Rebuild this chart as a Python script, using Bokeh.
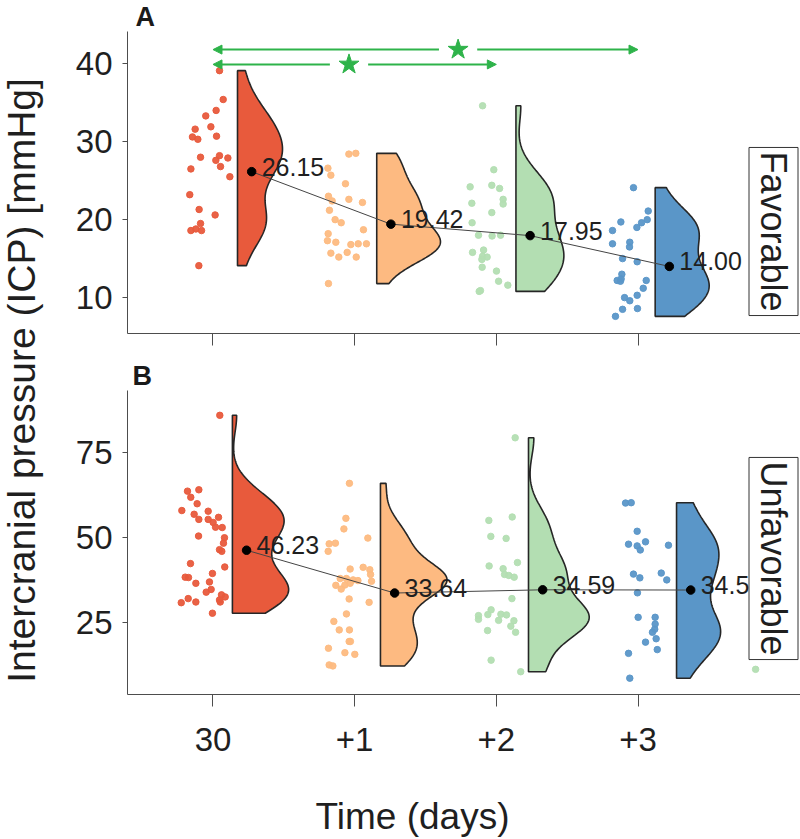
import numpy as np
from bokeh.plotting import figure
from bokeh.models import Range1d, FixedTicker, Label, Arrow, NormalHead
from bokeh.layouts import row, column
from bokeh.embed import file_html
from bokeh.resources import INLINE
from bokeh.core.properties import value

FONT = "Liberation Sans"

# ---------------- data ----------------
day_ticks = [1, 2, 3, 4]
day_labels = ["30", "+1", "+2", "+3"]
group_colors = ["#E85A3C", "#FDBA81", "#B3DEB2", "#5A96C8"]

# Panel A: Favorable (ICP values, mmHg)
fav_30 = [39.1, 35.4, 34.0, 33.3, 31.9, 31.6, 30.6, 30.3, 30.7, 28.0, 28.2, 27.9,
          27.6, 26.8, 26.5, 25.5, 23.2, 21.3, 20.6, 19.5, 18.6, 18.8, 18.6, 14.1]
fav_d1 = [28.4, 28.5, 26.6, 25.7, 24.6, 23.0, 22.4, 22.6, 22.2, 21.2, 20.0, 19.6,
          18.2, 18.7, 17.3, 17.1, 16.8, 16.9, 16.9, 15.7, 15.2, 15.8, 15.2, 11.8]
fav_d2 = [34.6, 26.4, 24.2, 24.4, 24.0, 22.1, 22.6, 22.0, 20.9, 19.6, 18.0, 17.9,
          18.0, 15.8, 16.1, 15.3, 15.2, 14.9, 13.9, 13.4, 12.1, 11.6, 10.9, 10.8]
fav_d3 = [24.1, 21.1, 20.0, 19.6, 19.0, 19.7, 18.6, 17.1, 16.5, 16.9, 15.0, 14.6,
          13.0, 12.2, 12.1, 12.4, 12.2, 11.2, 10.0, 9.6, 10.3, 8.5, 8.6, 7.6]
# horizontal jitter of the rain points (days units, relative to tick)
fav_30_jit = [0.046, 0.072, 0.022, -0.051, -0.015, -0.126, -0.145, -0.107, 0.025, -0.088, 0.046, 0.105,
              0.020, 0.053, -0.156, 0.119, -0.164, -0.098, 0.015, -0.088, -0.156, -0.121, -0.081, -0.100]
fav_d1_jit = [-0.041, 0.008, -0.189, -0.168, -0.065, -0.185, -0.159, -0.041, 0.055, -0.178, -0.138, -0.095,
              -0.187, 0.062, -0.192, -0.133, -0.027, 0.025, 0.083, -0.168, -0.112, -0.053, 0.011, -0.185]
fav_d2_jit = [-0.097, -0.018, -0.185, -0.032, 0.023, -0.173, 0.048, 0.048, -0.032, -0.171, -0.126, -0.030,
              0.030, -0.168, -0.090, -0.097, -0.065, -0.102, -0.100, 0.001, 0.016, 0.081, -0.112, -0.121]
fav_d3_jit = [-0.032, 0.072, 0.065, 0.025, -0.008, -0.121, -0.180, -0.058, -0.060, -0.180, -0.109, -0.006,
              -0.114, -0.147, -0.124, -0.119, 0.058, 0.037, -0.095, -0.058, -0.006, -0.109, -0.004, -0.159]
fav_means = [26.15, 19.42, 17.95, 14.00]

# Panel B: Unfavorable
unf_30 = [85.9, 63.6, 64.0, 61.8, 59.9, 57.9, 56.8, 57.7, 55.3, 55.3, 55.9, 54.4,
          53.0, 52.9, 50.4, 49.9, 48.3, 46.4, 45.9, 42.3, 41.3, 39.4, 38.3, 38.2,
          36.5, 36.9, 34.7, 33.9, 33.1, 32.5, 31.0, 30.8, 32.0, 31.0, 27.7, 31.6]
unf_d1 = [65.9, 55.6, 52.5, 49.8, 48.1, 48.3, 45.9, 40.7, 41.2, 40.5, 39.1, 37.9,
          37.9, 37.5, 37.3, 37.1, 35.9, 36.0, 36.5, 34.8, 31.9, 30.9, 27.5, 25.3,
          22.8, 22.8, 19.4, 19.4, 17.4, 16.1, 15.6, 12.5, 12.2]
unf_d2 = [79.3, 55.0, 56.0, 50.3, 49.7, 42.6, 41.6, 40.8, 39.1, 38.8, 38.3, 32.0,
          27.0, 25.9, 28.7, 27.3, 27.4, 27.2, 25.6, 25.5, 23.9, 22.6, 22.1, 13.9,
          10.5, 11.2]
unf_d3 = [60.1, 60.2, 51.8, 48.0, 47.5, 46.3, 48.7, 47.7, 39.2, 38.1, 39.5, 37.5,
          33.7, 26.5, 26.5, 24.5, 23.0, 22.1, 20.2, 19.2, 17.0, 15.9, 8.6]
unf_30_jit = [0.048, -0.180, -0.100, -0.157, -0.112, -0.220, -0.133, -0.034, -0.100, -0.034, 0.039, 0.001,
              0.018, 0.065, -0.102, 0.081, 0.074, 0.046, 0.062, -0.159, 0.083, -0.004, -0.196, -0.173,
              -0.121, -0.025, -0.013, -0.048, 0.060, 0.086, 0.051, -0.224, -0.175, -0.121, -0.004, 0.046]
unf_d1_jit = [-0.037, -0.062, -0.076, 0.093, -0.180, -0.136, -0.187, -0.032, 0.060, 0.107, 0.112, -0.102,
              -0.058, -0.011, 0.023, 0.119, -0.133, -0.069, -0.032, -0.095, -0.039, 0.102, -0.058, -0.147,
              -0.109, -0.037, -0.039, -0.030, -0.185, -0.069, 0.001, -0.180, -0.154]
unf_d2_jit = [0.133, -0.053, 0.112, -0.039, 0.069, 0.149, -0.051, 0.048, 0.058, 0.088, 0.126, 0.110,
              -0.126, -0.126, -0.037, -0.060, 0.032, 0.072, 0.016, 0.124, 0.102, -0.062, 0.136, -0.037,
              0.172, 1.83]
unf_d3_jit = [-0.088, -0.048, -0.006, -0.067, -0.006, 0.016, 0.053, 0.215, -0.032, 0.013, 0.164, 0.203,
              -0.004, 0.001, 0.121, 0.121, 0.118, 0.102, 0.128, 0.053, 0.136, -0.067, -0.058]
unf_means = [46.23, 33.64, 34.59, 34.52]

# significance brackets (panel A): pairs of days, level in mmHg
sig_pairs = [(1, 4), (1, 3)]
sig_levels = [41.8, 39.9]

# ---------------- layout constants ----------------
X0 = 0.3965
PX_PER_DAY = 141.67
FRAME_W = 673
X1 = X0 + FRAME_W / PX_PER_DAY
PANEL_W = 742
GREEN = "#2EB34A"
AXIS_COL = "#4d4d4d"
TXT_COL = "#1f1f1f"


def kde(vals, bw_factor, n=160):
    x = np.asarray(vals, float)
    med = np.median(x)
    sig = np.median(np.abs(x - med)) / 0.6745
    bw = bw_factor * sig * (4.0 / (3.0 * len(x))) ** 0.2
    grid = np.linspace(x.min(), x.max(), n)
    d = np.exp(-0.5 * ((grid[:, None] - x[None, :]) / bw) ** 2).sum(1)
    d /= len(x) * bw * np.sqrt(2 * np.pi)
    return grid, d


def strip(height):
    s = figure(width=PANEL_W, height=height, x_range=Range1d(0, 1), y_range=Range1d(0, 1),
               toolbar_location=None, output_backend="svg", min_border=0,
               x_axis_location=None, y_axis_location=None, outline_line_color=None)
    s.grid.visible = False
    return s


def make_panel(values, jitters, means, yr, yticks, cloud_start, cloud_step, max_w, bw_factor,
               height, b_bottom, show_xlabels):
    p = figure(width=PANEL_W, height=height, x_range=Range1d(X0, X1), y_range=Range1d(*yr),
               toolbar_location=None, output_backend="svg",
               min_border_left=69, min_border_right=0, min_border_top=0,
               min_border_bottom=b_bottom, outline_line_color=None,
               background_fill_color="white", border_fill_color="white")
    p.xgrid.visible = False
    p.ygrid.visible = False

    dens = [kde(v, bw_factor) for v in values]
    dmax = max(d.max() for _, d in dens)
    scale = max_w / dmax

    dot_x = []
    for i, (vals, jit, (g, d)) in enumerate(zip(values, jitters, dens)):
        tick = day_ticks[i]
        col = group_colors[i]
        # rain
        p.scatter([tick + j for j in jit], vals, size=6.5, fill_color=col,
                  line_color=col, alpha=0.95)
        # cloud (half violin)
        base = tick + cloud_start + cloud_step * i
        xs = np.concatenate([[base, base], base + scale * d[::-1]])
        ys = np.concatenate([[g[0], g[-1]], g[::-1]])
        p.patch(xs, ys, fill_color=col, line_color="#262626", line_width=1.6)
        dot_x.append(base + 0.1)

    p.line(dot_x, means, line_color="#444444", line_width=1)
    p.scatter(dot_x, means, size=8.5, color="black")
    p.text(dot_x, means, text=[f"{m:.2f}" for m in means], x_offset=10, y_offset=-5,
           text_font=value(FONT), text_font_size=value("25px"), text_color=TXT_COL,
           text_align="left", text_baseline="alphabetic")

    for ax in (p.xaxis[0], p.yaxis[0]):
        ax.axis_line_color = AXIS_COL
        ax.major_tick_line_color = AXIS_COL
        ax.minor_tick_line_color = None
        ax.major_tick_in = 0
        ax.major_label_text_font = FONT
        ax.major_label_text_font_size = "33px"
        ax.major_label_text_color = TXT_COL
    p.yaxis.ticker = FixedTicker(ticks=yticks)
    p.yaxis.major_tick_out = 5
    p.yaxis.major_label_standoff = 10
    p.xaxis.ticker = FixedTicker(ticks=day_ticks)
    p.xaxis.major_tick_out = 12
    if show_xlabels:
        p.xaxis.major_label_overrides = {t: s for t, s in zip(day_ticks, day_labels)}
        p.xaxis.major_label_standoff = 21
    else:
        p.xaxis.major_label_text_color = None
        p.xaxis.major_label_standoff = 0
    return p


p1 = make_panel([fav_30, fav_d1, fav_d2, fav_d3],
                [fav_30_jit, fav_d1_jit, fav_d2_jit, fav_d3_jit],
                fav_means, (5.4, 44.12), [10, 20, 30, 40],
                0.173, -0.0173, 0.45, 0.75, 317, 15, False)
p2 = make_panel([unf_30, unf_d1, unf_d2, unf_d3],
                [unf_30_jit, unf_d1_jit, unf_d2_jit, unf_d3_jit],
                unf_means, (3.8, 93.2), [25, 50, 75],
                0.137, 0.045, 0.47, 0.65, 380, 76, True)

# significance arrows with stars
star_x = [2.73, 1.96]
gap = 0.135
for (a, b), lev, sx in zip(sig_pairs, sig_levels, star_x):
    for xe in (a, b):
        xs0 = sx - gap if xe < sx else sx + gap
        p1.add_layout(Arrow(end=NormalHead(size=9, fill_color=GREEN, line_color=GREEN),
                            x_start=xs0, y_start=lev, x_end=xe, y_end=lev,
                            line_color=GREEN, line_width=2))
p1.scatter(star_x, sig_levels, marker="star", size=21, color=GREEN)

# condition boxes
for p, tag, tag_y in ((p1, "Favorable", 102), (p2, "Unfavorable", 136)):
    p.add_layout(Label(x=646, y=tag_y, x_units="screen", y_units="screen", text=tag,
                       angle=-np.pi / 2, text_align="center", text_baseline="middle",
                       text_font=FONT, text_font_size="36px", text_color=TXT_COL,
                       border_line_color="#333333", border_line_width=1,
                       background_fill_color="white", padding=4))

# panel letter strips (their frames line up with the panels' frames)
stripA = strip(31)
stripA.add_layout(Label(x=8, y=0, x_units="screen", y_units="screen", text="A",
                        text_font=FONT, text_font_size="27px", text_font_style="bold",
                        text_color="#1a1a1a", text_baseline="bottom"))
stripB = strip(42)
stripB.add_layout(Label(x=5, y=0, x_units="screen", y_units="screen", text="B",
                        text_font=FONT, text_font_size="27px", text_font_style="bold",
                        text_color="#1a1a1a", text_baseline="bottom"))
# x axis title strip
stripX = strip(69)
stripX.add_layout(Label(x=285, y=23, x_units="screen", y_units="screen", text="Time (days)",
                        text_align="center", text_baseline="middle", text_font=FONT,
                        text_font_size="37px", text_color=TXT_COL))

# left strip for the shared y label
lab = figure(width=58, height=839, x_range=Range1d(0, 1), y_range=Range1d(0, 1),
             toolbar_location=None, output_backend="svg", min_border=0,
             x_axis_location=None, y_axis_location=None, outline_line_color=None)
lab.grid.visible = False
lab.add_layout(Label(x=21, y=459, x_units="screen", y_units="screen",
                     text="Intercranial pressure (ICP) [mmHg]", angle=np.pi / 2,
                     text_align="center", text_baseline="middle", text_font=FONT,
                     text_font_size="39px", text_color=TXT_COL))

layout = row(lab, column(stripA, p1, stripB, p2, stripX))
open("out.html", "w").write(file_html(layout, INLINE))
